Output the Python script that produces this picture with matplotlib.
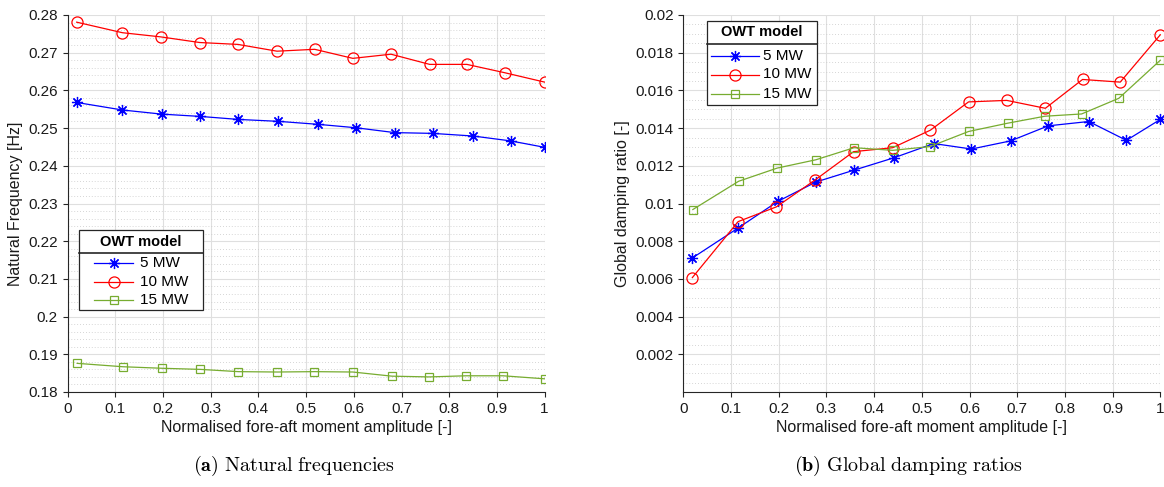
import numpy as np
import matplotlib
matplotlib.use("Agg")
import matplotlib.pyplot as plt
from matplotlib.ticker import MultipleLocator, FuncFormatter
from matplotlib.lines import Line2D
from matplotlib.patches import Rectangle

plt.rcParams['font.family'] = ['Liberation Sans', 'DejaVu Sans']
plt.rcParams['mathtext.fontset'] = 'cm'

# normalised fore-aft moment amplitude for each turbine
amp_5mw = [0.019, 0.115, 0.198, 0.278, 0.358, 0.441, 0.525, 0.604, 0.686, 0.765, 0.850, 0.929, 1.0]
amp_10mw = [0.019, 0.115, 0.195, 0.277, 0.357, 0.439, 0.518, 0.598, 0.678, 0.759, 0.837, 0.916, 1.0]
amp_15mw = [0.020, 0.116, 0.197, 0.278, 0.358, 0.439, 0.517, 0.598, 0.680, 0.758, 0.835, 0.913, 1.0]

# natural frequencies [Hz]
freq_5mw = [0.2568, 0.2548, 0.2537, 0.2531, 0.2523, 0.2518, 0.2510, 0.2501, 0.2488, 0.2486, 0.2479, 0.2466, 0.2449]
freq_10mw = [0.2781, 0.2753, 0.2742, 0.2727, 0.2722, 0.2704, 0.2709, 0.2685, 0.2696, 0.2669, 0.2669, 0.2647, 0.2622]
freq_15mw = [0.1876, 0.1867, 0.1863, 0.1860, 0.1854, 0.1853, 0.1854, 0.1853, 0.1842, 0.1840, 0.1843, 0.1843, 0.1835]

# global damping ratios [-]
damp_5mw = [0.00711, 0.00870, 0.01011, 0.01114, 0.01177, 0.01242, 0.01318, 0.01289, 0.01332, 0.01412, 0.01435, 0.01335, 0.01446]
damp_10mw = [0.00607, 0.00904, 0.00982, 0.01126, 0.01275, 0.01296, 0.01389, 0.01539, 0.01547, 0.01505, 0.01658, 0.01644, 0.01895]
damp_15mw = [0.00968, 0.01118, 0.01188, 0.01232, 0.01296, 0.01282, 0.01302, 0.01382, 0.01426, 0.01463, 0.01475, 0.01558, 0.01760]

models = ['5 MW', '10 MW', '15 MW']
captions = [r'$\mathbf{(a)}$ $\mathrm{Natural\ frequencies}$',
            r'$\mathbf{(b)}$ $\mathrm{Global\ damping\ ratios}$']

dark = '#262626'
green = '#77AC30'
styles = [dict(color='blue', marker=(8, 2, 0), ms=8),
          dict(color='red', marker='o', ms=8, mfc='none'),
          dict(color=green, marker='s', ms=6, mfc='none')]

W, H = 1164, 487
fig = plt.figure(figsize=(W / 100, H / 100), dpi=100)
ax1 = fig.add_axes([67.6 / W, 1 - 392 / H, 477 / W, 377 / H])
ax2 = fig.add_axes([683.3 / W, 1 - 392 / H, 477 / W, 377 / H])


def fp(x, y):
    # pixel position (from top-left) -> figure fraction
    return x / W, 1 - y / H


def style_axes(ax):
    ax.set_xlim(0, 1)
    ax.set_xticks(np.arange(0, 1.01, 0.1))
    ax.xaxis.set_major_formatter(FuncFormatter(lambda v, p: '%g' % round(v, 2)))
    ax.grid(True, which='major', color='#dfdfdf', lw=0.8)
    ax.grid(True, which='minor', axis='y', color='#c8c8c8', lw=0.6, ls=(0, (1, 2.5)))
    ax.set_axisbelow(True)
    for s in ['top', 'right']:
        ax.spines[s].set_visible(False)
    for s in ['left', 'bottom']:
        ax.spines[s].set_color(dark)
        ax.spines[s].set_linewidth(0.8)
    ax.tick_params(which='major', direction='out', length=3.5, width=0.8,
                   colors=dark, labelsize=11, labelcolor='#1a1a1a')
    ax.tick_params(which='minor', length=0)
    ax.set_xlabel('Normalised fore-aft moment amplitude [-]', fontsize=11.5,
                  color='#1a1a1a', labelpad=3)


def draw_legend(box, sep_y, title_y, row_ys, line_x, text_x):
    x0, y0, x1, y1 = box
    (fx0, fy1), (fx1, fy0) = fp(x0, y0), fp(x1, y1)
    fig.add_artist(Rectangle((fx0, fy0), fx1 - fx0, fy1 - fy0, transform=fig.transFigure,
                             facecolor='white', edgecolor=dark, lw=0.9, zorder=5))
    sx0, sy = fp(x0, sep_y)
    sx1, _ = fp(x1, sep_y)
    fig.add_artist(Line2D([sx0, sx1], [sy, sy], color=dark, lw=1.2, zorder=6))
    tx, ty = fp((x0 + x1) / 2, title_y)
    fig.text(tx, ty, 'OWT model', ha='center', va='center', fontsize=10.5,
             fontweight='bold', color='black', zorder=6)
    for lab, st, ry in zip(models, styles, row_ys):
        lx0, ly = fp(line_x[0], ry)
        lx1, _ = fp(line_x[1], ry)
        fig.add_artist(Line2D([lx0, lx1], [ly, ly], lw=0.9, color=st['color'], zorder=6))
        mx, _ = fp((line_x[0] + line_x[1]) / 2, ry)
        fig.add_artist(Line2D([mx], [ly], lw=0, mew=0.9, zorder=7, **st))
        ttx, _ = fp(text_x, ry)
        fig.text(ttx, ly, lab, ha='left', va='center', fontsize=11, color='black', zorder=6)


# natural frequency panel
for x, y, lab, st in zip([amp_5mw, amp_10mw, amp_15mw], [freq_5mw, freq_10mw, freq_15mw], models, styles):
    ax1.plot(x, y, lw=0.9, mew=0.9, label=lab, **st)
style_axes(ax1)
ax1.set_ylim(0.18, 0.28)
ax1.set_yticks(np.arange(0.18, 0.2801, 0.01))
ax1.yaxis.set_major_formatter(FuncFormatter(lambda v, p: '%g' % round(v, 3)))
ax1.yaxis.set_minor_locator(MultipleLocator(0.002))
ax1.set_ylabel('Natural Frequency [Hz]', fontsize=11.5, color='#1a1a1a')

# damping panel
for x, y, lab, st in zip([amp_5mw, amp_10mw, amp_15mw], [damp_5mw, damp_10mw, damp_15mw], models, styles):
    ax2.plot(x, y, lw=0.9, mew=0.9, label=lab, clip_on=False, **st)
style_axes(ax2)
ax2.set_ylim(0, 0.02)
ax2.set_yticks(np.arange(0.002, 0.02001, 0.002))
ax2.yaxis.set_major_formatter(FuncFormatter(lambda v, p: '%g' % round(v, 4)))
ax2.yaxis.set_minor_locator(MultipleLocator(0.0005))
ax2.set_ylabel('Global damping ratio [-]', fontsize=11.5, color='#1a1a1a')

draw_legend((79, 229.5, 203, 310), 252.5, 241.5, [263, 281.5, 300], (94, 133), 140)
draw_legend((707, 21.5, 817, 105), 43.5, 32.5, [55.5, 74.5, 93.5], (711, 759), 763)

fig.text(*fp(294, 466), captions[0], ha='center', va='center', fontsize=14.5)
fig.text(*fp(909, 466), captions[1], ha='center', va='center', fontsize=14.5)

fig.savefig('out.png', dpi=100)
